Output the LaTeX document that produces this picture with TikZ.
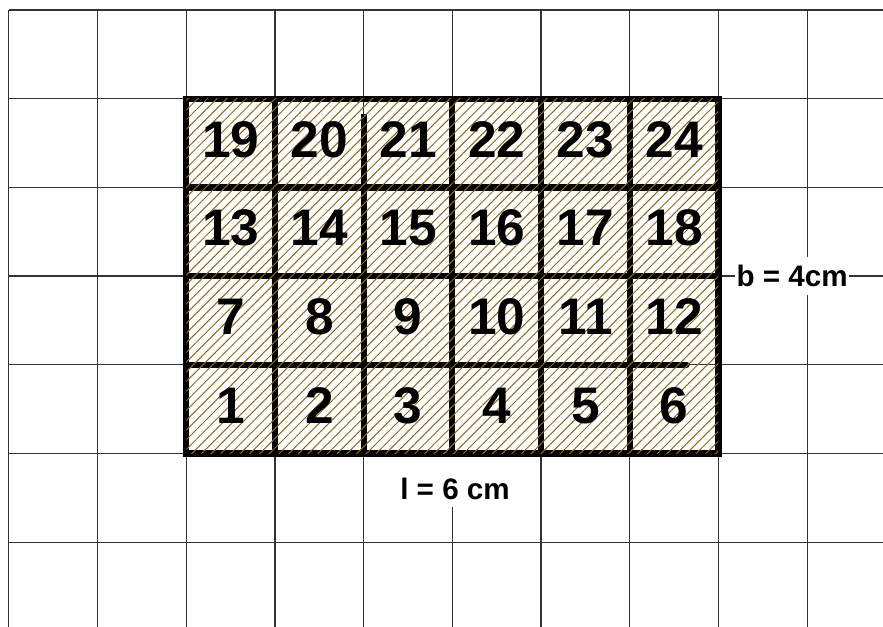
\documentclass[tikz,border=0pt]{standalone}
\usepackage{fontspec}
\setmainfont{Liberation Sans}
\usepackage{tikz}
\usetikzlibrary{patterns.meta}
\definecolor{hatchbrown}{RGB}{140,105,35}
\tikzstyle{gline} = [draw, black!80, line width=0.4pt]
\tikzstyle{bline} = [draw, line width=2pt]
\tikzstyle{hatch} = [pattern={Lines[angle=45, distance=2.2pt, line width=0.32pt]}, pattern color=hatchbrown]
\tikzstyle{num} = [font=\fontsize{16.5}{18}\selectfont\bfseries, inner sep=0pt]
\tikzstyle{dim} = [fill=white, font=\fontsize{9.5}{11}\selectfont\bfseries]

\begin{document}
\begin{tikzpicture}
	\useasboundingbox (-0.1,0.055) rectangle (9.855,7.113);
	% squared paper
	\path [gline] (0,-0.5) grid (9.9,7);
	
	% labels of the sides
	\node [dim, inner xsep=0.5pt, inner ysep=2.5pt] (b) at (8.83,4) {b = 4cm};
	\node [dim, anchor=base, text height=13pt, inner sep=2pt] (l) at (5.03,1.476) {l = 6 cm};
	
	% the rectangle of unit squares
	\path [bline] (2,2) rectangle (8,6);
	\path [bline] (3,2) -- (3,6);
	\path [bline] (4,2) -- (4,5.83);
	\path [bline] (5,2) -- (5,6);
	\path [bline] (6,2) -- (6,6);
	\path [bline] (7,2) -- (7,6);
	\path [bline, line cap=round] (2,3) -- (7.64,3);
	\path [bline] (2,4) -- (8,4);
	\path [bline] (2,5) -- (8,5);
	\path [hatch] (2,2) rectangle (8,6);
	
	\node [num] (n1) at (2.5,2.54) {1};
	\node [num] (n2) at (3.5,2.54) {2};
	\node [num] (n3) at (4.5,2.54) {3};
	\node [num] (n4) at (5.5,2.54) {4};
	\node [num] (n5) at (6.5,2.54) {5};
	\node [num] (n6) at (7.5,2.54) {6};
	\node [num] (n7) at (2.5,3.54) {7};
	\node [num] (n8) at (3.5,3.54) {8};
	\node [num] (n9) at (4.5,3.54) {9};
	\node [num] (n10) at (5.5,3.54) {10};
	\node [num] (n11) at (6.5,3.54) {11};
	\node [num] (n12) at (7.5,3.54) {12};
	\node [num] (n13) at (2.5,4.54) {13};
	\node [num] (n14) at (3.5,4.54) {14};
	\node [num] (n15) at (4.5,4.54) {15};
	\node [num] (n16) at (5.5,4.54) {16};
	\node [num] (n17) at (6.5,4.54) {17};
	\node [num] (n18) at (7.5,4.54) {18};
	\node [num] (n19) at (2.5,5.54) {19};
	\node [num] (n20) at (3.5,5.54) {20};
	\node [num] (n21) at (4.5,5.54) {21};
	\node [num] (n22) at (5.5,5.54) {22};
	\node [num] (n23) at (6.5,5.54) {23};
	\node [num] (n24) at (7.5,5.54) {24};
\end{tikzpicture}
\end{document}
